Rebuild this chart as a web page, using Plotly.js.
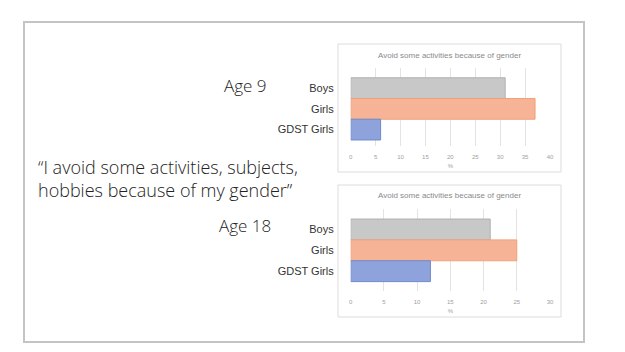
<!DOCTYPE html>
<html><head><meta charset="utf-8">
<script src="https://cdn.plot.ly/plotly-3.0.1.min.js"></script>
<style>html,body{margin:0;padding:0;background:#fff}#c{width:625px;height:352px}</style>
</head><body><div id="c"></div>
<script>
const categories = ['Boys', 'Girls', 'GDST Girls'];
const age9Values = [31, 37, 6];
const age18Values = [21, 25, 12];
const chartTitle = 'Avoid some activities because of gender';
const age9Ticks = [0, 5, 10, 15, 20, 25, 30, 35, 40];
const age18Ticks = [0, 5, 10, 15, 20, 25, 30];

const fills = ['#c8c8c8', '#f7b395', '#8ea3dc'];
const lines = ['#b0b0b0', '#f0a07a', '#7089cc'];

function px(x){return x/625;}
function py(y){return 1 - y/352;}

function barTraces(vals, xa, ya){
  return categories.map((c,i)=>({
    type:'bar', orientation:'h', x:[vals[i]], y:[c], xaxis:xa, yaxis:ya,
    marker:{color:fills[i], line:{color:lines[i], width:1}},
    width:1, showlegend:false, hoverinfo:'none'
  }));
}

const data = [...barTraces(age9Values,'x','y'), ...barTraces(age18Values,'x2','y2')];

const xBase = {showline:false, zeroline:false, showgrid:true, gridcolor:'#e3e3e3', gridwidth:1,
  tickfont:{family:'Liberation Sans', size:6, color:'#a0a0a0'}, ticks:'', ticklabelstandoff:6, fixedrange:true,
  title:{text:'%', font:{family:'Liberation Sans', size:6, color:'#a0a0a0'}, standoff:4}};
const yBase = {type:'category', categoryorder:'array', categoryarray:['GDST Girls','Girls','Boys'],
  showgrid:false, zeroline:false, showline:false, ticks:'', ticklabelstandoff:16,
  tickfont:{family:'Liberation Sans', size:11, color:'#333'}};

const bigFont = {family:'Open Sans', size:18, color:'#222', weight:300};

const layout = {
  width:625, height:352, margin:{l:0,r:0,t:0,b:0}, paper_bgcolor:'#fff', plot_bgcolor:'rgba(0,0,0,0)',
  barmode:'group', bargap:0, showlegend:false,
  xaxis: Object.assign({}, xBase, {domain:[px(350.7), px(550)], range:[0,40], tickvals:age9Ticks, anchor:'y'}),
  yaxis: Object.assign({}, yBase, {domain:[py(146), py(68)], range:[-0.79, 2.97], anchor:'x'}),
  xaxis2: Object.assign({}, xBase, {domain:[px(350.7), px(550)], range:[0,30], tickvals:age18Ticks, anchor:'y2'}),
  yaxis2: Object.assign({}, yBase, {domain:[py(291), py(209)], range:[-0.95, 2.98], anchor:'x2'}),
  shapes:[
    {type:'rect', xref:'paper', yref:'paper', x0:px(24), x1:px(584), y0:py(342), y1:py(22), line:{color:'#c4c4c4', width:2}, layer:'below'},
    {type:'rect', xref:'paper', yref:'paper', x0:px(338), x1:px(561), y0:py(172), y1:py(44), line:{color:'#dcdcdc', width:1}, layer:'below'},
    {type:'rect', xref:'paper', yref:'paper', x0:px(338), x1:px(561), y0:py(317), y1:py(185), line:{color:'#dcdcdc', width:1}, layer:'below'}
  ],
  annotations:[
    {text:chartTitle, xref:'paper', yref:'paper', x:px(449), y:py(55), showarrow:false, xanchor:'center', yanchor:'middle', font:{family:'Liberation Sans', size:8, color:'#8a8a8a'}},
    {text:chartTitle, xref:'paper', yref:'paper', x:px(449), y:py(196), showarrow:false, xanchor:'center', yanchor:'middle', font:{family:'Liberation Sans', size:8, color:'#8a8a8a'}},
    {text:'Age 9', xref:'paper', yref:'paper', x:px(222), y:py(85), showarrow:false, xanchor:'left', yanchor:'middle', font:Object.assign({}, bigFont, {size:17})},
    {text:'Age 18', xref:'paper', yref:'paper', x:px(217), y:py(225), showarrow:false, xanchor:'left', yanchor:'middle', font:Object.assign({}, bigFont, {size:17})},
    {text:'\u201CI avoid some activities, subjects,<br>hobbies because of my gender\u201D', xref:'paper', yref:'paper', x:px(36), y:py(178.5), showarrow:false, xanchor:'left', yanchor:'middle', align:'left', font:bigFont}
  ]
};
Plotly.newPlot('c', data, layout, {staticPlot:true, displayModeBar:false});
</script></body></html>
